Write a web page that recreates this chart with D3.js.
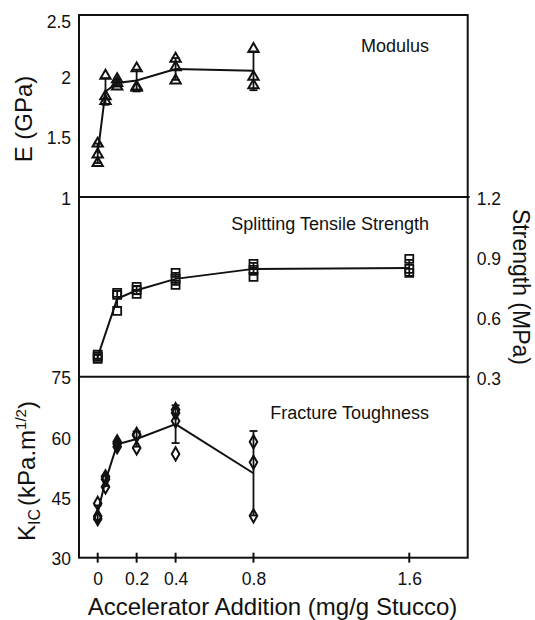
<!DOCTYPE html>
<html>
<head>
<meta charset="utf-8">
<script src="https://cdn.jsdelivr.net/npm/d3@7"></script>
<style>
  html, body { margin: 0; padding: 0; background: #fff; }
  svg { display: block; }
  text { font-family: "Liberation Sans", Arial, Helvetica, sans-serif; fill: #111; }
</style>
</head>
<body>
<svg id="chart" width="535" height="620"></svg>
<script>
// ---------- data ----------
const xTickValues = [0, 0.2, 0.4, 0.8, 1.6];
const xTickLabels = ["0", "0.2", "0.4", "0.8", "1.6"];

// Modulus E (GPa)
const modX = [0, 0.04, 0.1, 0.2, 0.4, 0.8];
const modPoints = [[1.44, 1.35, 1.28], [2.0, 1.83, 1.79], [1.97, 1.94, 1.91], [2.06, 1.91, 1.90], [2.14, 2.07, 1.96], [2.22, 1.99, 1.92]];
const modMean = [1.36, 1.87, 1.94, 1.96, 2.055, 2.04];
const modErr = [0.08, 0.11, 0.03, 0.09, 0.09, 0.16];
const eTickValues = [1, 1.5, 2, 2.5];
const eTickLabels = ["1", "1.5", "2", "2.5"];

// Splitting tensile strength (MPa)
const strX = [0, 0.1, 0.2, 0.4, 0.8, 1.6];
const strPoints = [[0.41, 0.40, 0.39], [0.72, 0.71, 0.63], [0.75, 0.735, 0.715], [0.82, 0.79, 0.76], [0.865, 0.835, 0.80], [0.89, 0.84, 0.82]];
const strMean = [0.40, 0.69, 0.733, 0.79, 0.84, 0.845];
const strErr = [0.01, 0.04, 0.02, 0.03, 0.03, 0.04];
const sTickValues = [0.3, 0.6, 0.9, 1.2];
const sTickLabels = ["0.3", "0.6", "0.9", "1.2"];

// Fracture toughness KIC (kPa.m^1/2)
const kX = [0, 0.04, 0.1, 0.2, 0.4, 0.8];
const kPoints = [[43.5, 40.3, 39.7], [50.1, 49.5, 47.6], [58.8, 58.3, 57.6], [60.7, 60.4, 57.3], [66.8, 66.0, 64.0, 55.8], [58.8, 53.7, 40.4]];
const kMean = [41.2, 49.1, 58.2, 59.5, 63.2, 51.0];
const kErr = [1.8, 1.3, 0.6, 1.9, 4.7, 10.5];
const kTickValues = [30, 45, 60, 75];
const kTickLabels = ["30", "45", "60", "75"];

// ---------- layout ----------
const L = 79, R = 467.7, T = 15, S1 = 197, S2 = 376.7, B = 557.7;
const svg = d3.select("#chart");

const x = d3.scaleLinear().domain([-0.096, 1.9]).range([L, R]);
const yE = d3.scaleLinear().domain([1, 2.5]).range([S1, T]);
const yS = d3.scaleLinear().domain([0.3, 1.2]).range([S2, S1]);
const yK = d3.scaleLinear().domain([30, 75]).range([B, S2]);

const tickFont = "17.5px";

// ---------- axes ----------
function styleAxis(g) {
  g.select(".domain").remove();
  g.selectAll("text").style("font-size", tickFont).attr("fill", "#111");
}

svg.append("g").attr("transform", `translate(${L},0)`)
  .call(d3.axisLeft(yE).tickValues(eTickValues).tickSize(0).tickPadding(8)
    .tickFormat((d, i) => eTickLabels[i]))
  .call(styleAxis)
  .call(g => g.selectAll("text").attr("dy", d => d === 2.5 ? "0.7em" : "0.42em"));

svg.append("g").attr("transform", `translate(${L},0)`)
  .call(d3.axisLeft(yK).tickValues(kTickValues).tickSize(0).tickPadding(8)
    .tickFormat((d, i) => kTickLabels[i]))
  .call(styleAxis)
  .call(g => g.selectAll("text").attr("dy", "0.4em"));

svg.append("g").attr("transform", `translate(${R},0)`)
  .call(d3.axisRight(yS).tickValues(sTickValues).tickSize(0).tickPadding(9)
    .tickFormat((d, i) => sTickLabels[i]))
  .call(styleAxis)
  .call(g => g.selectAll("text").attr("dy", "0.42em"));

svg.append("g").attr("transform", `translate(0,${B})`)
  .call(d3.axisBottom(x).tickValues(xTickValues).tickSize(0).tickPadding(15)
    .tickFormat((d, i) => xTickLabels[i]))
  .call(styleAxis);

// x ticks crossing the axis
svg.append("g").selectAll("line").data(xTickValues).join("line")
  .attr("x1", d => x(d)).attr("x2", d => x(d))
  .attr("y1", B - 5).attr("y2", B + 5)
  .attr("stroke", "#111").attr("stroke-width", 2);

// frame + separators
const frame = svg.append("g").attr("stroke", "#111").attr("stroke-width", 2).attr("fill", "none");
frame.append("rect").attr("x", L).attr("y", T).attr("width", R - L).attr("height", B - T);
frame.append("line").attr("x1", L).attr("x2", R + 2).attr("y1", S1).attr("y2", S1);
frame.append("line").attr("x1", L).attr("x2", R + 2).attr("y1", S2).attr("y2", S2);

// ---------- series ----------
const symbols = {
  tri: d3.symbol().type(d3.symbolTriangle).size(46),
  sq: d3.symbol().type(d3.symbolSquare).size(64),
  dia: d3.symbol().type(d3.symbolDiamond).size(50)
};

function drawSeries(xs, pts, means, errs, y, sym, strokeW) {
  const g = svg.append("g");
  // mean line
  g.append("path")
    .datum(xs.map((v, i) => [v, means[i]]))
    .attr("d", d3.line().x(d => x(d[0])).y(d => y(d[1])))
    .attr("fill", "none").attr("stroke", "#111").attr("stroke-width", 2);
  // error bars
  const eb = g.append("g").attr("stroke", "#111").attr("stroke-width", 1.8);
  xs.forEach((v, i) => {
    const cx = x(v), y1 = y(means[i] + errs[i]), y2 = y(means[i] - errs[i]);
    eb.append("line").attr("x1", cx).attr("x2", cx).attr("y1", y1).attr("y2", y2);
    eb.append("line").attr("x1", cx - 4).attr("x2", cx + 4).attr("y1", y1).attr("y2", y1);
    eb.append("line").attr("x1", cx - 4).attr("x2", cx + 4).attr("y1", y2).attr("y2", y2);
  });
  // points
  const flat = [];
  xs.forEach((v, i) => pts[i].forEach(p => flat.push([v, p])));
  g.append("g").selectAll("path").data(flat).join("path")
    .attr("d", sym)
    .attr("transform", d => `translate(${x(d[0])},${y(d[1])})`)
    .attr("fill", "none").attr("stroke", "#111").attr("stroke-width", strokeW);
}

drawSeries(modX, modPoints, modMean, modErr, yE, symbols.tri, 2);
drawSeries(strX, strPoints, strMean, strErr, yS, symbols.sq, 1.8);
drawSeries(kX, kPoints, kMean, kErr, yK, symbols.dia, 2);

// ---------- panel labels ----------
const panelLabels = ["Modulus", "Splitting Tensile Strength", "Fracture Toughness"];
const panelBase = [51.7, 229.5, 418.5];
svg.append("g").selectAll("text").data(panelLabels).join("text")
  .attr("x", 429).attr("y", (d, i) => panelBase[i])
  .attr("text-anchor", "end").style("font-size", "18px")
  .text(d => d);

// ---------- axis titles ----------
svg.append("text")
  .attr("transform", "translate(31.5,119) rotate(-90)")
  .attr("text-anchor", "middle").style("font-size", "24px")
  .text("E (GPa)");

svg.append("text")
  .attr("transform", "translate(513,287) rotate(90)")
  .attr("text-anchor", "middle").style("font-size", "23px")
  .text("Strength (MPa)");

const kt = svg.append("text")
  .attr("transform", "translate(35,471) rotate(-90)")
  .attr("text-anchor", "middle").style("font-size", "24px");
kt.append("tspan").text("K");
kt.append("tspan").attr("dy", 5).style("font-size", "16px").text("IC");
kt.append("tspan").attr("dy", -5).attr("dx", 3).text("(kPa.m");
kt.append("tspan").attr("dy", -9).style("font-size", "15px").text("1/2");
kt.append("tspan").attr("dy", 9).text(")");

svg.append("text")
  .attr("x", 272.5).attr("y", 615)
  .attr("text-anchor", "middle").style("font-size", "24px")
  .text("Accelerator Addition (mg/g Stucco)");
</script>
</body>
</html>
